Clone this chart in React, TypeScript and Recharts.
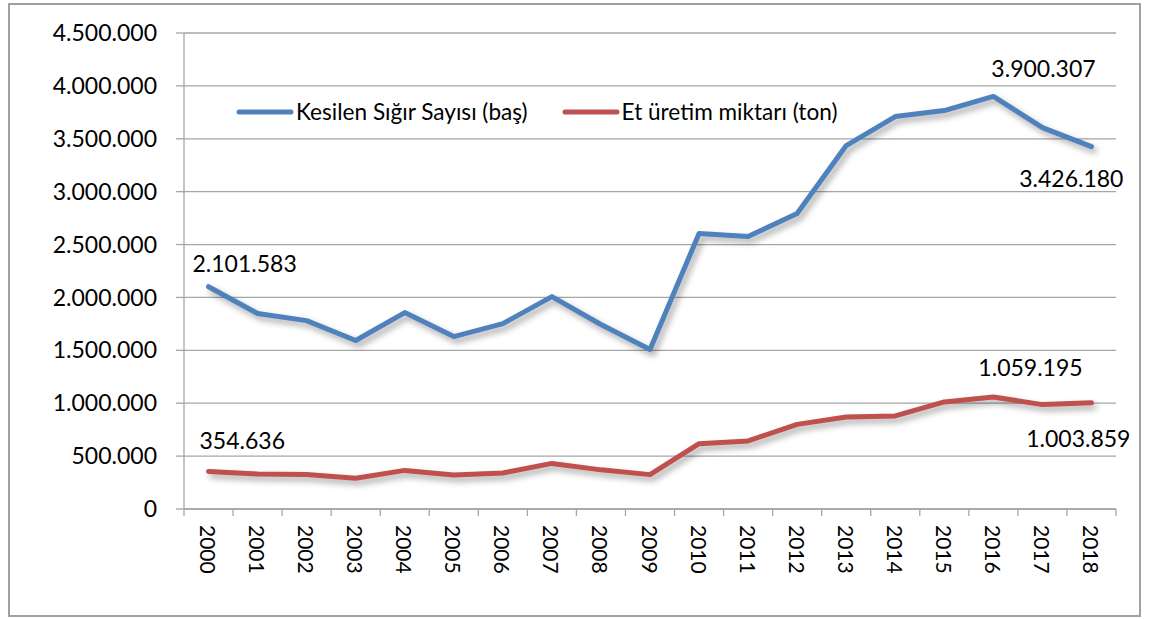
import React from "react";
import {
  LineChart, Line, XAxis, YAxis, CartesianGrid, Legend, LabelList,
} from "recharts";

const years = [
  "2000", "2001", "2002", "2003", "2004", "2005", "2006", "2007", "2008", "2009",
  "2010", "2011", "2012", "2013", "2014", "2015", "2016", "2017", "2018",
];

// kesilen sığır sayısı (baş)
const kesilen = [
  2101583, 1848000, 1781000, 1593000, 1857000, 1630000, 1753000, 2008000, 1744000, 1508000,
  2604000, 2576000, 2793000, 3436000, 3710000, 3767000, 3900307, 3606000, 3426180,
];

// et üretim miktarı (ton)
const etUretim = [
  354636, 331000, 327000, 290000, 365000, 322000, 341000, 431000, 370000, 325000,
  618000, 644000, 800000, 869000, 880000, 1012000, 1059195, 987000, 1003859,
];

const seriesNames = ["Kesilen Sığır Sayısı (baş)", "Et üretim miktarı (ton)"];

const yTicks = [0, 500000, 1000000, 1500000, 2000000, 2500000, 3000000, 3500000, 4000000, 4500000];

const data = years.map((y, i) => ({ i, year: y, kesilen: kesilen[i], et: etUretim[i] }));

// integer positions carry the year label, half positions carry the tick mark between categories
const xTicks: number[] = [];
years.forEach((_, i) => { xTicks.push(i - 0.5); xTicks.push(i); });
xTicks.push(years.length - 0.5);

const FONT = "Lato, 'Open Sans', sans-serif";
const BLUE = "#4F81BD";
const RED = "#C0504D";
const GRID = "#a6a6a6";

const fmt = (v: number) => String(v).replace(/\B(?=(\d{3})+(?!\d))/g, ".");

// label placement for the few annotated points
const blueLabels: Record<number, { dx: number; dy: number; anchor: string }> = {
  0: { dx: -16, dy: -24, anchor: "start" },
  16: { dx: -2, dy: -28, anchor: "start" },
  18: { dx: 32, dy: 31, anchor: "end" },
};
const redLabels: Record<number, { dx: number; dy: number; anchor: string }> = {
  0: { dx: -9, dy: -31, anchor: "start" },
  16: { dx: -15, dy: -30, anchor: "start" },
  18: { dx: 39, dy: 35, anchor: "end" },
};

function makeLabel(cfg: Record<number, { dx: number; dy: number; anchor: string }>) {
  return (props: any) => {
    const { x, y, value, index } = props;
    const c = cfg[index];
    if (!c) return null;
    return (
      <text
        x={x + c.dx}
        y={y + c.dy}
        textAnchor={c.anchor}
        dominantBaseline="central"
        fontFamily={FONT}
        fontSize={23}
        fill="#000"
      >
        {fmt(value)}
      </text>
    );
  };
}

function XTick(props: any) {
  const { x, y, payload } = props;
  const v = payload.value;
  if (!Number.isInteger(v)) {
    return <line x1={x} x2={x} y1={y} y2={y + 7} stroke={GRID} strokeWidth={1.3} />;
  }
  return (
    <text
      x={x}
      y={y + 16}
      transform={`rotate(90, ${x}, ${y + 16})`}
      textAnchor="start"
      dominantBaseline="central"
      fontFamily={FONT}
      fontSize={21}
      fill="#000"
    >
      {years[v]}
    </text>
  );
}

function renderLegend(props: any) {
  const { payload } = props;
  return (
    <div style={{ display: "flex", alignItems: "center", fontFamily: FONT, fontSize: 22.6, color: "#000" }}>
      {payload.map((p: any) => (
        <span key={p.value} style={{ display: "flex", alignItems: "center", marginRight: 34 }}>
          <svg width={58} height={8}>
            <line x1={3} x2={55} y1={4} y2={4} stroke={p.color} strokeWidth={5} strokeLinecap="round" />
          </svg>
          <span style={{ marginLeft: 2 }}>{p.value}</span>
        </span>
      ))}
    </div>
  );
}

export default function App() {
  return (
    <div style={{ position: "absolute", left: 0, top: 0, width: 1158, height: 619, background: "#fff" }}>
      <style>{`.recharts-line-curve { filter: drop-shadow(3px 4px 3px rgba(0,0,0,0.35)); }`}</style>
      <div
        style={{
          position: "absolute", left: 8, top: 3, width: 1133, height: 614,
          border: "2px solid #a0a0a0", boxSizing: "border-box",
        }}
      />
      <div style={{ position: "absolute", left: 0, top: 0 }}>
        <LineChart width={1158} height={619} data={data} margin={{ top: 33, right: 42, bottom: 40, left: 0 }}>
          <CartesianGrid vertical={false} stroke={GRID} strokeWidth={1.3} />
          <XAxis
            dataKey="i"
            type="number"
            domain={[-0.5, years.length - 0.5]}
            ticks={xTicks}
            interval={0}
            tickLine={false}
            tickSize={0}
            tickMargin={0}
            height={70}
            axisLine={{ stroke: GRID, strokeWidth: 1.3 }}
            tick={<XTick />}
          />
          <YAxis
            width={184}
            domain={[0, 4500000]}
            ticks={yTicks}
            interval={0}
            tickFormatter={fmt}
            tickSize={8}
            tickMargin={19}
            axisLine={{ stroke: GRID, strokeWidth: 1.3 }}
            tickLine={{ stroke: GRID, strokeWidth: 1.3 }}
            tick={{ fontFamily: FONT, fontSize: 23, fill: "#000" }}
          />
          <Legend
            layout="horizontal"
            verticalAlign="middle"
            align="center"
            itemSorter={(item: any) => seriesNames.indexOf(item.value)}
            content={renderLegend}
            wrapperStyle={{ position: "absolute", left: 236, top: 98, width: "auto" }}
          />
          <Line
            name={seriesNames[0]}
            dataKey="kesilen"
            stroke={BLUE}
            strokeWidth={5}
            strokeLinecap="round"
            strokeLinejoin="round"
            dot={false}
            activeDot={false}
            isAnimationActive={false}
          >
            <LabelList dataKey="kesilen" content={makeLabel(blueLabels)} />
          </Line>
          <Line
            name={seriesNames[1]}
            dataKey="et"
            stroke={RED}
            strokeWidth={5}
            strokeLinecap="round"
            strokeLinejoin="round"
            dot={false}
            activeDot={false}
            isAnimationActive={false}
          >
            <LabelList dataKey="et" content={makeLabel(redLabels)} />
          </Line>
        </LineChart>
      </div>
    </div>
  );
}
